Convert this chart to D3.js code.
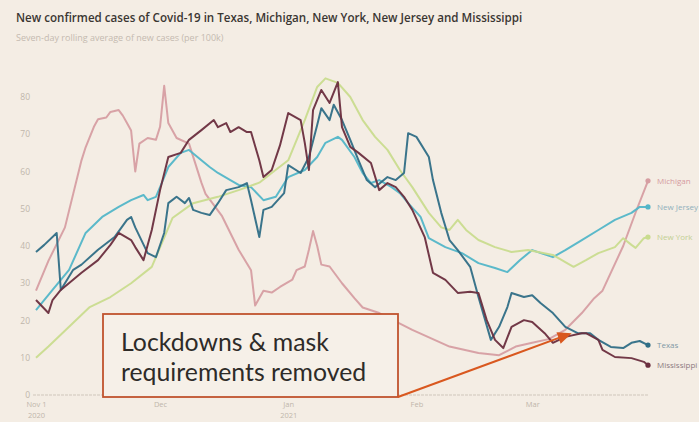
<!DOCTYPE html>
<html><head><meta charset="utf-8">
<script src="https://cdn.jsdelivr.net/npm/d3@7"></script>
<style>
html,body{margin:0;padding:0;background:#f4ede4;}
svg{display:block;}
</style></head>
<body>
<svg id="chart" width="699" height="422"></svg>
<script>
// ---- data: [day since 1 Nov 2020, seven-day avg cases per 100k] ----
const michigan = [[0,28],[3,36],[7,45],[11,63],[12,66.5],[14,72],[15,74],[17,74.5],[18,76],[20,76.5],[21,75],[22,73],[23,71],[24,60],[25,67.5],[27,69],[29,68.5],[30,72],[31,83],[32,73],[34,69],[37,67.5],[38,64],[40,57],[41,54],[45,48],[49,39],[52,33.5],[53,24],[55,28],[57,27.5],[59,29],[62,31],[63,33.5],[65,34.5],[66,39],[67,44],[68,40],[69,35],[71,34.5],[74,30],[77,26],[79,23.5],[83,22],[91,17.5],[100,13],[107,11.3],[112,10.7],[116,13],[120,14],[124,15],[128,17.5],[132,22],[135,26],[137,28],[142,40],[145,49],[148,57.5]];
const newJersey = [[0,22.8],[4,28.2],[8,33.6],[12,43.5],[16,47.8],[20,50.5],[23,52.3],[26,53.7],[27,52.3],[29,53.2],[30,55.8],[32,61.2],[35,65],[37,65.8],[40,63],[42,61.2],[44,59.6],[47,57.7],[49,56.4],[52,55.8],[55,52.3],[58,53.2],[61,58.5],[65,60.4],[68,63.9],[70,67.7],[73,69.3],[74,68.5],[77,63.9],[79,59.6],[81,56.9],[83,57.7],[86,55.8],[88,54.2],[90,51.5],[93,47.8],[95,42.1],[99,39.7],[103,38.1],[107,35.4],[111,34.1],[114,33],[117,36.2],[120,38.9],[125,37],[128,38.9],[132,41.6],[136,44.3],[140,47],[144,48.9],[146,50.5],[148,50.5]];
const newYork = [[0,10],[3,13],[8,18.3],[13,23.6],[18,26.3],[23,30],[28,34.4],[29,37],[33,47.5],[38,51.5],[44,53.2],[49,55],[54,57],[57,59.6],[61,63],[65,73.8],[68,82.7],[70,85],[73,83.8],[76,80],[79,73.8],[82,69.3],[85,65.8],[88,60.4],[91,55.8],[95,48.9],[98,45],[100,44.3],[102,47],[104,44.3],[107,41.6],[111,39.7],[115,38.4],[119,38.9],[125,37.6],[128,35.7],[130,34.4],[133,36.2],[136,38.1],[140,39.7],[142,42.1],[144,40.3],[145,39.5],[147,42.1],[148,42.4]];
const texas = [[0,38.4],[2,40.3],[5,43.5],[6,28.2],[9,33.6],[11,35],[15,39],[19,42.4],[22,47],[23,47.8],[24,45],[27,38.1],[29,37],[31,43.5],[32,51.5],[34,53.2],[36,51.5],[37,52.9],[38,49.7],[40,48.9],[42,48.3],[44,51.5],[46,55],[49,55.8],[51,56.9],[52,52.3],[54,42.4],[55,49.7],[57,50.5],[60,54.2],[61,61.7],[64,59.6],[66,63.9],[68,72.5],[69,77],[71,73.8],[72,77.9],[74,73.8],[76,68.5],[78,63],[80,57.7],[82,55.8],[85,58.5],[87,57.7],[89,59.6],[90,70.3],[92,69.3],[95,63.9],[96,57.7],[98,48.9],[100,41.6],[102,38.9],[105,34.4],[107,26.3],[110,14.8],[112,18.3],[114,23.6],[115,27.4],[118,26.3],[120,26.8],[122,24.7],[125,22],[128,18.3],[131,16.6],[134,16.6],[136,14.8],[139,12.9],[142,12.6],[144,14],[146,14.5],[148,13.4]];
const mississippi = [[0,25.5],[3,22],[4,25.5],[6,28.2],[11,32.8],[15,36.2],[18,40.3],[20,43.5],[23,41.6],[24,39.7],[26,36.2],[28,44.3],[30,55],[32,63.9],[35,65],[37,68.5],[40,71.1],[43,73.8],[44,71.9],[46,73],[47,70.6],[49,71.9],[51,70.6],[52,70.6],[54,63],[55,58.5],[57,60.4],[59,67],[61,75.7],[64,73.8],[65,67.7],[66,60.4],[67,76.5],[69,81.9],[71,78.4],[73,84],[74,71.9],[76,66.6],[78,65],[81,62.3],[83,55],[85,56.9],[87,55.8],[89,53.2],[91,49.7],[94,42.4],[96,32.8],[99,30.9],[102,27.4],[105,27.7],[107,27.4],[109,20.1],[111,14.8],[113,12.6],[115,18.3],[118,20.1],[120,19.6],[123,16.6],[125,14],[128,15.6],[132,16.6],[133,16.6],[136,14.8],[137,12.1],[140,10.2],[144,9.9],[147,8.9],[148,8]];

const seriesNames = ["Michigan","New Jersey","New York","Texas","Mississippi"];
const seriesData = [michigan, newJersey, newYork, texas, mississippi];
const seriesColors = ["#d69ea2","#52b6c8","#c9dc8e","#2f6e86","#6a2e3e"];
const labelColors = ["#d49aa0","#8fb0bc","#c2cf92","#7e98a4","#8c7a80"];

const yTicks = [0,10,20,30,40,50,60,70,80];
const xTickDays = [0,30,61,92,120];
const xTickLabels = [["Nov 1","2020"],["Dec"],["Jan","2021"],["Feb"],["Mar"]];

const title = "New confirmed cases of Covid-19 in Texas, Michigan, New York, New Jersey and Mississippi";
const subtitle = "Seven-day rolling average of new cases (per 100k)";
const annotation = ["Lockdowns & mask","requirements removed"];
const annotationDay = 131;   // arrow target
const annotationValue = 16.6;

// ---- drawing ----
const svg = d3.select("#chart");
const x = d3.scaleLinear().domain([0,148]).range([36,648]);
const y = d3.scaleLinear().domain([0,80]).range([395,97]);

svg.append("rect").attr("width",699).attr("height",422).attr("fill","#f4ede4");

svg.append("text").attr("x",16).attr("y",22)
  .attr("font-family","Open Sans").attr("font-weight",600).attr("font-size",11.6)
  .attr("fill","#3a3632").text(title);
svg.append("text").attr("x",16).attr("y",41)
  .attr("font-family","Open Sans").attr("font-size",9)
  .attr("fill","#c4bab0").text(subtitle);

// y axis labels
const yAxis = d3.axisLeft(y).tickValues(yTicks).tickSize(0).tickPadding(0);
const gy = svg.append("g").attr("transform","translate(30,0)").call(yAxis);
gy.select(".domain").remove();
gy.selectAll("text").attr("font-family","Open Sans").attr("font-size",8.5).attr("fill","#c0b6ab");

// baseline
svg.append("line").attr("x1",33).attr("x2",x(148)).attr("y1",y(0)).attr("y2",y(0))
  .attr("stroke","#cfc6bb").attr("stroke-width",1).attr("stroke-dasharray","3,1");

// x axis labels (two separate text lines per tick)
const xAxis = d3.axisBottom(x).tickValues(xTickDays).tickSize(0).tickPadding(0).tickFormat("");
const gx = svg.append("g").attr("transform",`translate(0,${y(0)})`).call(xAxis);
gx.select(".domain").remove();
gx.selectAll(".tick").each(function(d,i){
  const g = d3.select(this);
  xTickLabels[i].forEach((s,j)=>g.append("text").attr("font-family","Open Sans").attr("font-size",7.5)
    .attr("fill","#c0b6ab").attr("text-anchor","middle").attr("x",0).attr("y",12+j*10.5).text(s));
});

// lines
const line = d3.line().x(d=>x(d[0])).y(d=>y(d[1])).curve(d3.curveLinear);
seriesData.forEach((data,i)=>{
  svg.append("path").datum(data).attr("d",line).attr("fill","none")
    .attr("stroke",seriesColors[i]).attr("stroke-width",2).attr("stroke-linejoin","round").attr("opacity",0.95);
});
seriesData.forEach((data,i)=>{
  const last = data[data.length-1];
  svg.append("circle").attr("cx",x(last[0])).attr("cy",y(last[1])).attr("r",2.6).attr("fill",seriesColors[i]);
  svg.append("text").attr("x",x(last[0])+9).attr("y",y(last[1])+3)
    .attr("font-family","Open Sans").attr("font-size",8).attr("fill",labelColors[i]).text(seriesNames[i]);
});

// annotation box + arrow
const boxL = 103, boxT = 314, boxR = 398, boxB = 397;
svg.append("rect").attr("x",boxL).attr("y",boxT).attr("width",boxR-boxL).attr("height",boxB-boxT)
  .attr("fill","#f6f0e8").attr("stroke","#c0532e").attr("stroke-width",1.8);
annotation.forEach((s,i)=>{
  svg.append("text").attr("x",121).attr("y",351+i*30)
    .attr("font-family","Lato").attr("font-size",24.8).attr("fill","#2e2b28").text(s);
});
const tx = x(annotationDay) - 6, ty = y(annotationValue);
const ang = Math.atan2(ty-boxB, tx-boxR);
svg.append("line").attr("x1",boxR).attr("y1",boxB).attr("x2",tx-10*Math.cos(ang)).attr("y2",ty-10*Math.sin(ang))
  .attr("stroke","#d9581f").attr("stroke-width",2);
const ah = 14, aw = 6;
const p = [[tx,ty],
  [tx-ah*Math.cos(ang)+aw*Math.sin(ang), ty-ah*Math.sin(ang)-aw*Math.cos(ang)],
  [tx-ah*Math.cos(ang)-aw*Math.sin(ang), ty-ah*Math.sin(ang)+aw*Math.cos(ang)]];
svg.append("path").attr("d","M"+p.join("L")+"Z").attr("fill","#d9581f");
</script>
</body></html>
